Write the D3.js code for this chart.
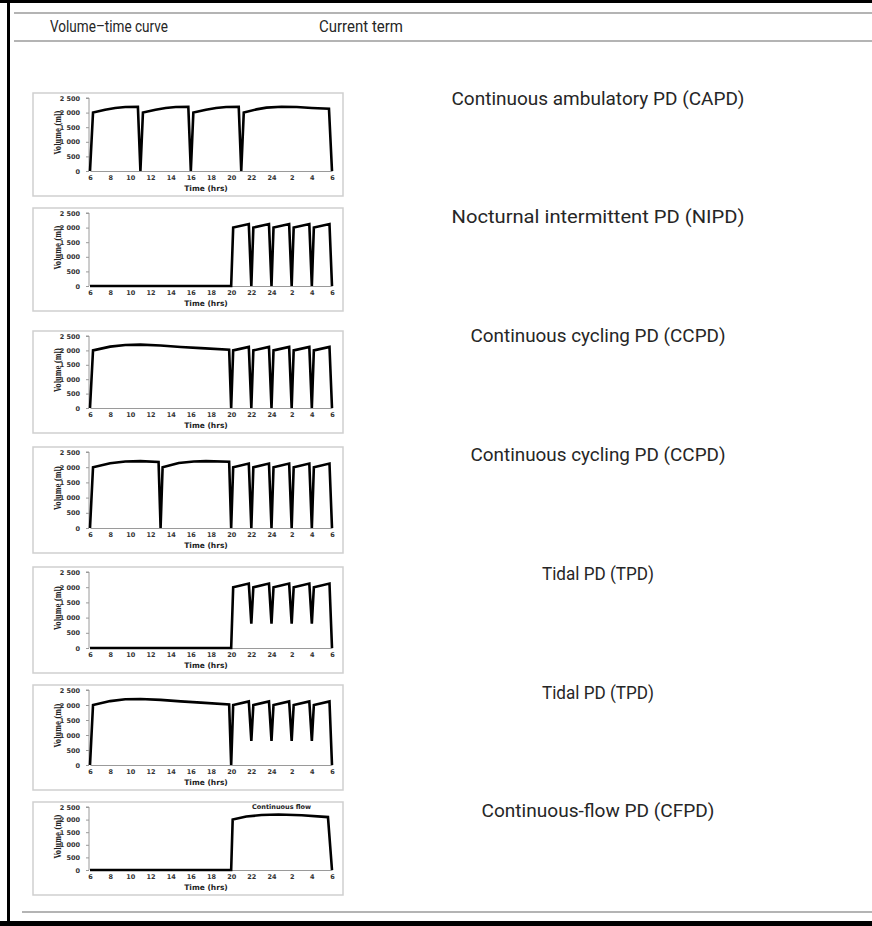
<!DOCTYPE html>
<html>
<head>
<meta charset="utf-8">
<script src="https://cdn.jsdelivr.net/npm/d3@7"></script>
<style>
  body { margin: 0; background: #fff; }
  .rowTitle { font-family: Roboto, "Noto Sans", sans-serif; fill: #262626; }
  .tickTxt text { font-family: "DejaVu Sans", sans-serif; font-weight: bold; font-size: 6.5px; fill: #333; }
</style>
</head>
<body>
<div id="chart"></div>
<script>
// table header and row titles
var headers = ['Volume\u2013time curve', 'Current term']
var terms = [
  'Continuous ambulatory PD (CAPD)',
  'Nocturnal intermittent PD (NIPD)',
  'Continuous cycling PD (CCPD)',
  'Continuous cycling PD (CCPD)',
  'Tidal PD (TPD)',
  'Tidal PD (TPD)',
  'Continuous-flow PD (CFPD)'
]

// axes
var xTickValues = [6, 8, 10, 12, 14, 16, 18, 20, 22, 24, 26, 28, 30]
var xTickLabels = ['6', '8', '10', '12', '14', '16', '18', '20', '22', '24', '2', '4', '6']
var yTickValues = [0, 500, 1000, 1500, 2000, 2500]
var yTickLabels = ['0', '500', '1 000', '1 500', '2 000', '2 500']

// volume (ml) against time (hrs, 30 = 6 next morning)
var capd = [[6, 0], [6.3, 2000], [7.5, 2100], [8.5, 2160], [9.5, 2190], [10.75, 2200], [11, 0],
  [11.25, 2000], [12.5, 2100], [13.5, 2160], [14.5, 2190], [15.75, 2200], [16, 0],
  [16.25, 2000], [17.5, 2100], [18.5, 2160], [19.5, 2190], [20.75, 2200], [21, 0],
  [21.25, 2000], [22.5, 2110], [23.5, 2170], [25, 2200], [26.5, 2190], [28, 2160], [29.7, 2130], [30, 0]]

var nipd = [[6, 0], [20, 0], [20.2, 2000], [21.75, 2120], [22, 0], [22.2, 2000], [23.75, 2120], [24, 0],
  [24.2, 2000], [25.75, 2120], [26, 0], [26.2, 2000], [27.75, 2120], [28, 0],
  [28.2, 2000], [29.75, 2120], [30, 0]]

var ccpdA = [[6, 0], [6.3, 2000], [8, 2130], [9.5, 2190], [11, 2200], [13, 2170], [15, 2120], [17, 2080], [19.8, 2020], [20, 0],
  [20.2, 2000], [21.75, 2120], [22, 0], [22.2, 2000], [23.75, 2120], [24, 0],
  [24.2, 2000], [25.75, 2120], [26, 0], [26.2, 2000], [27.75, 2120], [28, 0],
  [28.2, 2000], [29.75, 2120], [30, 0]]

var ccpdB = [[6, 0], [6.3, 2000], [8, 2130], [9.5, 2190], [11, 2200], [12.8, 2170], [13, 0],
  [13.2, 2000], [14.8, 2140], [16.3, 2190], [17.5, 2200], [19.8, 2180], [20, 0],
  [20.2, 2000], [21.75, 2120], [22, 0], [22.2, 2000], [23.75, 2120], [24, 0],
  [24.2, 2000], [25.75, 2120], [26, 0], [26.2, 2000], [27.75, 2120], [28, 0],
  [28.2, 2000], [29.75, 2120], [30, 0]]

var tpdA = [[6, 0], [20, 0], [20.2, 2000], [21.75, 2120], [22, 800], [22.2, 2000], [23.75, 2120], [24, 800],
  [24.2, 2000], [25.75, 2120], [26, 800], [26.2, 2000], [27.75, 2120], [28, 800],
  [28.2, 2000], [29.75, 2120], [30, 0]]

var tpdB = [[6, 0], [6.3, 2000], [8, 2130], [9.5, 2190], [11, 2200], [13, 2170], [15, 2120], [17, 2080], [19.8, 2020], [20, 0],
  [20.2, 2000], [21.75, 2120], [22, 800], [22.2, 2000], [23.75, 2120], [24, 800],
  [24.2, 2000], [25.75, 2120], [26, 800], [26.2, 2000], [27.75, 2120], [28, 800],
  [28.2, 2000], [29.75, 2120], [30, 0]]

var cfpd = [[6, 0], [20, 0], [20.15, 2000], [21.5, 2120], [23, 2180], [24.7, 2200], [27, 2170], [29.6, 2100], [30, 0]]

var series = [capd, nipd, ccpdA, ccpdB, tpdA, tpdB, cfpd]

// layout
var svgWidth = 872
var svgHeight = 926
var boxTops = [93, 208, 331, 447, 567, 685, 802]
var boxBottoms = [196, 311, 433, 553, 673, 790, 895]
var titleY = [100, 218, 337, 456, 575, 694, 812]
var titleWidth = [293, 293, 255, 255, 112, 112, 233]
var headerX = [109, 361]
var headerWidth = [118, 84]

var svg = d3.select('#chart')
  .append('svg')
  .attr('width', svgWidth)
  .attr('height', svgHeight)

// outer frame: black on top, left and bottom
svg.append('rect').attr('x', 0).attr('y', 0).attr('width', svgWidth).attr('height', 3).attr('fill', '#000')
svg.append('rect').attr('x', 7).attr('y', 0).attr('width', 3).attr('height', svgHeight).attr('fill', '#000')
svg.append('rect').attr('x', 0).attr('y', 921).attr('width', svgWidth).attr('height', 5).attr('fill', '#000')

// table rules
;[13, 41, 912].forEach(function(y, i) {
  svg.append('line')
    .attr('x1', i == 2 ? 22 : 14).attr('x2', svgWidth)
    .attr('y1', y).attr('y2', y)
    .attr('stroke', '#b4b4b4')
    .attr('stroke-width', 2)
})

svg.selectAll('.head')
  .data(headers)
  .enter()
  .append('text')
  .attr('class', 'rowTitle')
  .attr('x', (d, i) => headerX[i])
  .attr('y', 28)
  .attr('dominant-baseline', 'middle')
  .attr('text-anchor', 'middle')
  .attr('font-size', '17px')
  .attr('textLength', (d, i) => headerWidth[i])
  .attr('lengthAdjust', 'spacingAndGlyphs')
  .text(d => d)

svg.selectAll('.term')
  .data(terms)
  .enter()
  .append('text')
  .attr('class', 'rowTitle')
  .attr('x', 598)
  .attr('y', (d, i) => titleY[i])
  .attr('dominant-baseline', 'middle')
  .attr('text-anchor', 'middle')
  .attr('font-size', '18px')
  .attr('textLength', (d, i) => titleWidth[i])
  .attr('lengthAdjust', 'spacingAndGlyphs')
  .text(d => d)

var xScale = d3.scaleLinear().domain([6, 30]).range([90, 332])

series.forEach(function(data, i) {
  var top = boxTops[i]
  var bottom = boxBottoms[i]
  var g = svg.append('g')

  //panel frame
  g.append('rect')
    .attr('x', 33).attr('y', top)
    .attr('width', 310).attr('height', bottom - top)
    .attr('fill', '#fff')
    .attr('stroke', '#cfcfcf')
    .attr('stroke-width', 1.5)

  var yScale = d3.scaleLinear().domain([0, 2500]).range([bottom - 25, top + 5])

  var yAxis = d3.axisLeft(yScale)
    .tickValues(yTickValues)
    .tickFormat((d, k) => yTickLabels[k])
    .tickSize(3)
    .tickPadding(6)
  var xAxis = d3.axisBottom(xScale)
    .tickValues(xTickValues)
    .tickFormat((d, k) => xTickLabels[k])
    .tickSize(0)
    .tickPadding(4)

  var ya = g.append('g').attr('class', 'tickTxt').attr('transform', 'translate(89,0)').call(yAxis)
  var xa = g.append('g').attr('class', 'tickTxt').attr('transform', `translate(0,${bottom - 25})`).call(xAxis)
  ya.selectAll('path, line').attr('stroke', '#9a9a9a')
  xa.selectAll('path, line').attr('stroke', '#9a9a9a')
  ya.select('.domain').attr('d', `M-3,${yScale(2500)}H0V${yScale(0)}`)

  g.append('text')
    .attr('x', 206).attr('y', bottom - 5)
    .attr('text-anchor', 'middle')
    .attr('font-family', '"DejaVu Sans", sans-serif')
    .attr('font-weight', 'bold')
    .attr('font-size', '7.5px')
    .attr('fill', '#222')
    .text('Time (hrs)')

  // rotated y title, squeezed over the tick labels like the original
  g.append('text')
    .attr('transform', `translate(61,${(yScale(0) + yScale(2500)) / 2 - 2}) rotate(-90)`)
    .attr('text-anchor', 'middle')
    .attr('font-family', '"DejaVu Serif", serif')
    .attr('font-weight', 'bold')
    .attr('font-size', '10px')
    .attr('textLength', 44)
    .attr('lengthAdjust', 'spacingAndGlyphs')
    .attr('fill', '#222')
    .text('Volume (ml)')

  var line = d3.line()
    .x(d => xScale(d[0]))
    .y(d => yScale(d[1]))

  g.append('path')
    .datum(data)
    .attr('d', line)
    .attr('fill', 'none')
    .attr('stroke', '#000')
    .attr('stroke-width', 2.6)
    .attr('stroke-linejoin', 'miter')

  if (data === cfpd) {
    g.append('text')
      .attr('x', xScale(25)).attr('y', yScale(2420))
      .attr('text-anchor', 'middle')
      .attr('font-family', '"DejaVu Sans", sans-serif')
      .attr('font-weight', 'bold')
      .attr('font-size', '6.5px')
      .attr('fill', '#222')
      .text('Continuous flow')
  }
})
</script>
</body>
</html>
